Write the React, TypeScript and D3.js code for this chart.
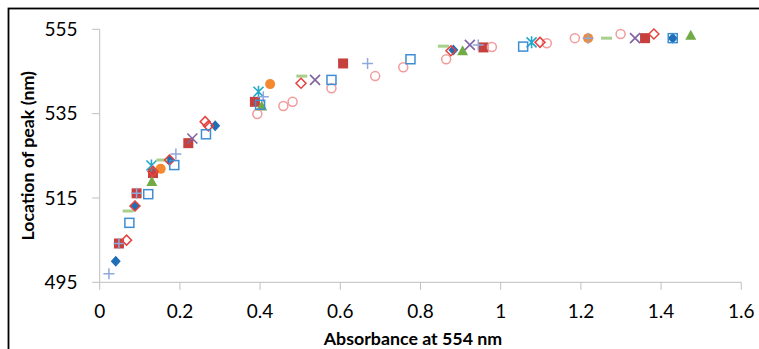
import React from "react";
import * as d3 from "d3";

// ---- data (absorbance at 554 nm, location of peak in nm) ----
const blueDiamondX = [0.040, 0.088, 0.174, 0.288, 0.882, 1.429];
const blueDiamondY = [500.0, 513.1, 524.0, 532.1, 550.1, 552.9];

const redSquareX = [0.048, 0.092, 0.133, 0.221, 0.387, 0.607, 0.957, 1.360];
const redSquareY = [504.2, 516.1, 520.9, 528.0, 537.8, 546.9, 550.7, 552.9];

const greenTriangleX = [0.130, 0.404, 0.905, 1.474];
const greenTriangleY = [518.9, 536.8, 549.9, 553.6];

const purpleCrossX = [0.231, 0.537, 0.923, 1.335];
const purpleCrossY = [529.1, 543.0, 551.3, 552.9];

const tealStarX = [0.129, 0.396, 1.077];
const tealStarY = [522.7, 540.2, 551.9];

const orangeCircleX = [0.152, 0.425, 1.218];
const orangeCircleY = [521.9, 542.0, 552.9];

const plusX = [0.023, 0.048, 0.092, 0.190, 0.408, 0.668, 0.944, 1.218];
const plusY = [497.0, 504.2, 516.1, 525.4, 539.0, 546.9, 551.3, 552.9];

const dashX = [0.071, 0.155, 0.504, 0.857, 1.264];
const dashY = [511.9, 524.0, 543.9, 551.0, 552.9];

const hollowCircleX = [0.393, 0.458, 0.481, 0.578, 0.687, 0.757, 0.864, 0.978, 1.115, 1.185, 1.299];
const hollowCircleY = [534.9, 536.8, 537.8, 541.0, 543.9, 546.0, 547.9, 550.8, 551.7, 552.9, 553.9];

const hollowDiamondX = [0.067, 0.088, 0.133, 0.174, 0.263, 0.271, 0.502, 0.876, 1.098, 1.382];
const hollowDiamondY = [505.0, 513.1, 521.3, 524.0, 533.1, 532.1, 542.2, 549.9, 551.9, 553.9];

const hollowSquareX = [0.074, 0.121, 0.186, 0.265, 0.400, 0.578, 0.775, 1.056, 1.429];
const hollowSquareY = [509.1, 515.9, 522.8, 530.1, 537.1, 543.0, 547.9, 550.9, 552.9];

const xTicks = [0, 0.2, 0.4, 0.6, 0.8, 1, 1.2, 1.4, 1.6];
const yTicks = [495, 515, 535, 555];
const xTitle = "Absorbance at 554 nm";
const yTitle = "Location of peak (nm)";

// ---- layout ----
const W = 759;
const H = 349;
const left = 99.7;
const right = 741.3;
const top = 29.3;
const bottom = 282.3;
const FONT = "Lato, 'Open Sans', sans-serif";

const x = d3.scaleLinear().domain([0, 1.6]).range([left, right]);
const y = d3.scaleLinear().domain([495, 555]).range([bottom, top]);

type Kind =
  | "diamond"
  | "square"
  | "triangle"
  | "cross"
  | "star"
  | "circle"
  | "plus"
  | "dash"
  | "hcircle"
  | "hdiamond"
  | "hsquare";

interface Series {
  kind: Kind;
  xs: number[];
  ys: number[];
  color: string;
}

const series: Series[] = [
  { kind: "diamond", xs: blueDiamondX, ys: blueDiamondY, color: "#1F6EB6" },
  { kind: "square", xs: redSquareX, ys: redSquareY, color: "#C6403D" },
  { kind: "triangle", xs: greenTriangleX, ys: greenTriangleY, color: "#72AB45" },
  { kind: "cross", xs: purpleCrossX, ys: purpleCrossY, color: "#8064A2" },
  { kind: "star", xs: tealStarX, ys: tealStarY, color: "#20A7C9" },
  { kind: "circle", xs: orangeCircleX, ys: orangeCircleY, color: "#F4892F" },
  { kind: "plus", xs: plusX, ys: plusY, color: "#8EA9DB" },
  { kind: "dash", xs: dashX, ys: dashY, color: "#A8D08D" },
  { kind: "hcircle", xs: hollowCircleX, ys: hollowCircleY, color: "#F19B9B" },
  { kind: "hdiamond", xs: hollowDiamondX, ys: hollowDiamondY, color: "#E5433E" },
  { kind: "hsquare", xs: hollowSquareX, ys: hollowSquareY, color: "#3D8ED5" },
];

function Marker({ kind, cx, cy, color }: { kind: Kind; cx: number; cy: number; color: string }) {
  const t = `translate(${cx},${cy})`;
  switch (kind) {
    case "diamond":
      return <path transform={t} d="M0,-5.5L5,0L0,5.5L-5,0Z" fill={color} />;
    case "square":
      return <rect transform={t} x={-5} y={-5} width={10} height={10} fill={color} />;
    case "triangle":
      return <path transform={t} d="M0,-5.5L5.5,4.5L-5.5,4.5Z" fill={color} />;
    case "cross":
      return (
        <path transform={t} d="M-5,-5L5,5M-5,5L5,-5" stroke={color} strokeWidth={1.6} fill="none" />
      );
    case "star":
      return (
        <path
          transform={t}
          d="M-5,-5L5,5M-5,5L5,-5M0,-6L0,6"
          stroke={color}
          strokeWidth={1.6}
          fill="none"
        />
      );
    case "circle":
      return <circle cx={cx} cy={cy} r={5} fill={color} />;
    case "plus":
      return (
        <path transform={t} d="M-5.5,0L5.5,0M0,-5.5L0,5.5" stroke={color} strokeWidth={1.5} fill="none" />
      );
    case "dash":
      return <path transform={t} d="M-5.5,0L5.5,0" stroke={color} strokeWidth={3} fill="none" />;
    case "hcircle":
      return <circle cx={cx} cy={cy} r={4.5} fill="none" stroke={color} strokeWidth={1.5} />;
    case "hdiamond":
      return (
        <path transform={t} d="M0,-5L5,0L0,5L-5,0Z" fill="none" stroke={color} strokeWidth={1.5} />
      );
    case "hsquare":
      return (
        <rect
          transform={t}
          x={-4.5}
          y={-4.5}
          width={9}
          height={9}
          fill="none"
          stroke={color}
          strokeWidth={1.5}
        />
      );
  }
  return null;
}

export default function App() {
  const axisColor = "#BFBFBF";
  return (
    <svg
      width={W}
      height={H}
      style={{ position: "absolute", left: 0, top: 0, background: "#fff" }}
      fontFamily={FONT}
    >
      <rect x={0} y={0} width={W} height={H} fill="#fff" />
      <rect x={8.5} y={8.5} width={W + 20} height={H + 20} fill="none" stroke="#000" strokeWidth={1.8} />

      {/* axes */}
      <line x1={left} x2={left} y1={top} y2={bottom} stroke={axisColor} strokeWidth={1} />
      <line x1={left} x2={right} y1={bottom} y2={bottom} stroke={axisColor} strokeWidth={1} />
      {yTicks.map((v) => (
        <g key={"y" + v}>
          <line x1={left - 7.5} x2={left} y1={y(v)} y2={y(v)} stroke={axisColor} />
          <text x={77.5} y={y(v)} dy="0.36em" textAnchor="end" fontSize={19} fill="#000">
            {v}
          </text>
        </g>
      ))}
      {xTicks.map((v) => (
        <g key={"x" + v}>
          <line x1={x(v)} x2={x(v)} y1={bottom} y2={bottom + 7.5} stroke={axisColor} />
          <text x={x(v)} y={318} textAnchor="middle" fontSize={19} fill="#000">
            {d3.format("")(v)}
          </text>
        </g>
      ))}

      {/* titles */}
      <text x={413} y={345} textAnchor="middle" fontSize={17.8} fontWeight="bold" fill="#000">
        {xTitle}
      </text>
      <text
        transform={`translate(34,${(top + bottom) / 2}) rotate(-90)`}
        textAnchor="middle"
        fontSize={17.8}
        fontWeight="bold"
        fill="#000"
      >
        {yTitle}
      </text>

      {/* points */}
      {series.map((s, si) => (
        <g key={si}>
          {s.xs.map((xv, i) => (
            <Marker key={i} kind={s.kind} cx={x(xv)} cy={y(s.ys[i])} color={s.color} />
          ))}
        </g>
      ))}
    </svg>
  );
}
